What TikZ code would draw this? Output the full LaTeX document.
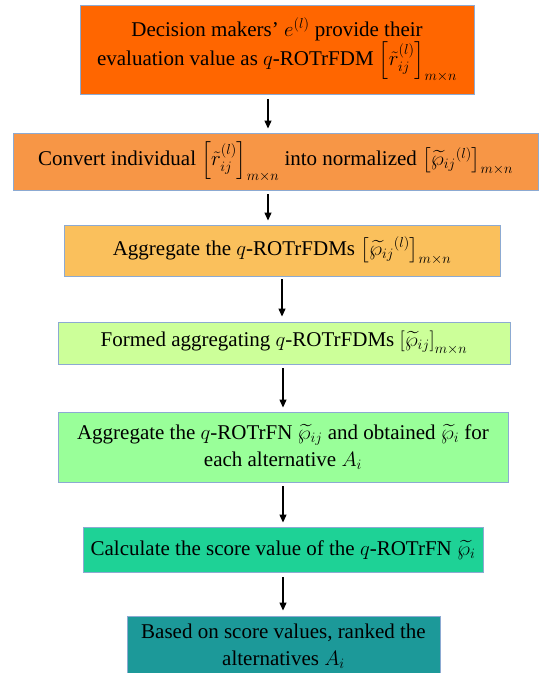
\documentclass[tikz,border=0pt]{standalone}
\usepackage{fontspec}
\setmainfont{Liberation Serif}
\usepackage{amsmath,amssymb}
\usepackage{xcolor}
\usetikzlibrary{arrows.meta,positioning}
\definecolor{boxline}{RGB}{140,170,210}
\definecolor{dmorange}{RGB}{255,102,0}
\definecolor{convorange}{RGB}{247,150,70}
\definecolor{aggorange}{RGB}{250,192,92}
\definecolor{formgreen}{RGB}{204,255,153}
\definecolor{rowgreen}{RGB}{153,255,153}
\definecolor{scoreteal}{RGB}{30,210,150}
\definecolor{rankteal}{RGB}{28,153,153}

\begin{document}
\begin{tikzpicture}[x=1pt, y=-1pt, >={Triangle[length=8pt,width=7pt]},
    flowbox/.style={draw=boxline, line width=0.9pt, align=center, inner sep=0pt,
      font=\fontsize{21}{27}\selectfont}]
    \useasboundingbox (0,0) rectangle (542,673);
    \node[flowbox, fill=dmorange, minimum width=394pt, minimum height=89pt] (dm) at (277,49.5) {Decision makers' $e^{(l)}$ provide their\\evaluation value as $q$-ROTrFDM $\left[\tilde{r}_{ij}^{(l)}\right]_{m\times n}$};
    \node[flowbox, fill=convorange, minimum width=525pt, minimum height=57pt] (conv) at (275.5,161.5) {Convert individual $\left[\tilde{r}_{ij}^{(l)}\right]_{m\times n}$ into normalized $\left[\widetilde{\wp}_{ij}{}^{(l)}\right]_{m\times n}$};
    \node[flowbox, fill=aggorange, minimum width=436pt, minimum height=51pt] (agg) at (282,250.5) {Aggregate the $q$-ROTrFDMs $\left[\widetilde{\wp}_{ij}{}^{(l)}\right]_{m\times n}$};
    \node[flowbox, fill=formgreen, minimum width=452pt, minimum height=42pt] (form) at (284,343) {Formed aggregating $q$-ROTrFDMs $\left[\widetilde{\wp}_{ij}\right]_{m\times n}$};
    \node[flowbox, fill=rowgreen, minimum width=450pt, minimum height=70pt] (alt) at (283,447) {Aggregate the $q$-ROTrFN $\widetilde{\wp}_{ij}$ and obtained $\widetilde{\wp}_{i}$ for\\each alternative $A_i$};
    \node[flowbox, fill=scoreteal, minimum width=400pt, minimum height=45pt] (score) at (283,549.5) {Calculate the score value of the $q$-ROTrFN $\widetilde{\wp}_{i}$};
    \node[flowbox, fill=rankteal, minimum width=313pt, minimum height=60pt] (rank) at (283.5,646) {Based on score values, ranked the\\alternatives $A_i$};

    \draw[->, line width=1.2pt, shorten <=5pt, shorten >=4pt] ([xshift=-9pt]dm.south) -- ([xshift=-9pt]dm.south |- conv.north);
    \draw[->, line width=1.2pt, shorten <=4pt, shorten >=4pt] ([xshift=-7.5pt]conv.south) -- ([xshift=-7.5pt]conv.south |- agg.north);
    \draw[->, line width=1.2pt, shorten <=3pt, shorten >=5pt] (agg.south) -- (agg.south |- form.north);
    \draw[->, line width=1.2pt, shorten <=4pt, shorten >=4pt] (alt.north |- form.south) -- (alt.north);
    \draw[->, line width=1.2pt, shorten <=4pt, shorten >=4pt] (alt.south) -- (alt.south |- score.north);
    \draw[->, line width=1.2pt, shorten <=5pt, shorten >=5pt] (score.south) -- (score.south |- rank.north);
\end{tikzpicture}
\end{document}
